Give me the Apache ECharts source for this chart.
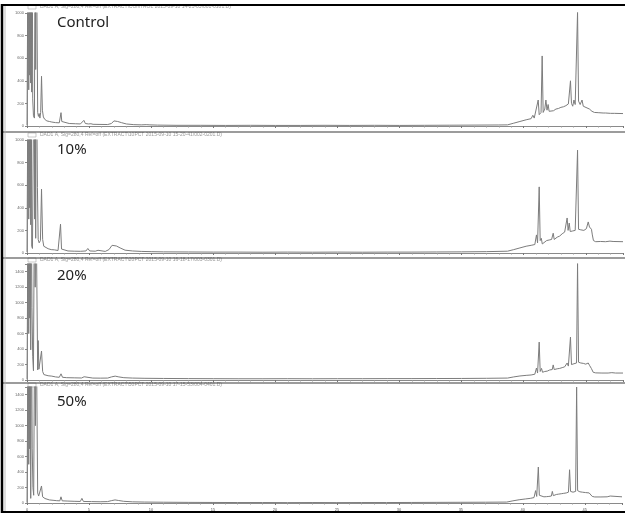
<!DOCTYPE html>
<html>
<head>
<meta charset="utf-8">
<script src="https://cdn.jsdelivr.net/npm/echarts@6/dist/echarts.min.js"></script>
<style>
  html, body { margin: 0; padding: 0; background: #fff; }
  #chart { width: 625px; height: 514px; }
</style>
</head>
<body>
<div id="chart"></div>
<script>
// Four HPLC chromatograms (absorbance vs retention time, min), one per treatment.
const panelNames = ['Control', '10%', '20%', '50%'];
const panelHeaders = [
  'DAD1 A, Sig=280,4 Ref=off (EXTRACT\\CONTROL 2015-09-10 14-23-05\\001-0101.D)',
  'DAD1 A, Sig=280,4 Ref=off (EXTRACT\\10PCT 2015-09-10 15-20-41\\002-0201.D)',
  'DAD1 A, Sig=280,4 Ref=off (EXTRACT\\20PCT 2015-09-10 16-18-17\\003-0301.D)',
  'DAD1 A, Sig=280,4 Ref=off (EXTRACT\\50PCT 2015-09-10 17-15-53\\004-0401.D)'
];
const timeRange = [0, 48];
const timeStep = 5;
const yMax = [1000, 1000, 1500, 1500];
const yStep = 200;

// [retention time (min), mAU]
const control = [
  [0,6],[0.06,8],[0.1,2000],[0.14,320],[0.18,2000],[0.22,450],[0.26,2000],[0.3,380],[0.34,2000],
  [0.38,300],[0.42,2000],[0.46,240],[0.52,90],[0.6,70],[0.66,2000],[0.7,500],[0.74,2000],[0.8,2000],
  [0.86,120],[0.92,85],[0.98,110],[1.04,70],[1.1,120],[1.17,440],[1.24,140],[1.32,80],[1.42,60],
  [1.6,45],[1.8,40],[2.0,35],[2.3,30],[2.6,28],[2.68,40],[2.74,118],[2.8,40],[2.9,25],[3.4,22],
  [3.9,20],[4.3,18],[4.45,30],[4.58,50],[4.7,22],[4.95,18],[5.15,20],[5.23,30],[5.32,15],[5.8,14],
  [6.5,13],[6.8,22],[7.0,45],[7.3,40],[7.6,30],[8.0,18],[8.6,12],[9.2,10],[9.6,12],[9.74,20],
  [9.9,10],[10.5,8],[12,6],[14,6],[16,5],[18,6],[20,5],[22,5],[24,6],[26,5],[28,6],[30,5],[32,6],
  [34,7],[36,8],[38,9],[38.7,10],[39.2,25],[39.7,40],[40.2,55],[40.6,65],[40.74,95],[40.85,70],
  [41.0,80],[41.17,230],[41.25,100],[41.4,120],[41.49,620],[41.57,120],[41.7,150],[41.79,230],
  [41.88,140],[41.97,190],[42.05,130],[42.2,125],[42.4,135],[42.6,150],[42.8,155],[43.0,165],
  [43.2,170],[43.4,180],[43.6,195],[43.77,400],[43.85,200],[43.95,175],[44.05,230],[44.15,190],
  [44.26,200],[44.34,1010],[44.42,220],[44.55,190],[44.7,230],[44.8,175],[44.95,190],[45.1,160],
  [45.3,150],[45.5,130],[45.7,120],[46.0,118],[46.4,115],[46.5,125],[46.6,115],[47.0,112],
  [47.15,125],[47.3,112],[48,110]
];
const pct10 = [
  [0,8],[0.06,10],[0.1,2000],[0.14,300],[0.18,2000],[0.22,400],[0.26,2000],[0.3,250],[0.34,2000],
  [0.38,60],[0.44,40],[0.5,50],[0.58,2000],[0.62,300],[0.66,2000],[0.7,130],[0.74,2000],[0.8,2000],
  [0.84,580],[0.9,120],[0.98,90],[1.08,110],[1.17,565],[1.26,120],[1.35,60],[1.5,50],[1.7,38],
  [1.95,30],[2.2,28],[2.5,22],[2.62,30],[2.7,255],[2.78,35],[2.9,20],[3.3,18],[3.8,16],[4.3,15],
  [4.75,18],[4.9,40],[5.05,18],[5.5,16],[5.72,24],[5.85,15],[6.3,14],[6.6,30],[6.85,68],[7.2,62],
  [7.5,45],[7.9,25],[8.5,18],[9.2,14],[10,12],[11,10],[13,9],[15,8],[17,8],[19,7],[21,8],[23,7],
  [25,8],[27,7],[29,8],[31,8],[33,9],[35,10],[37,12],[38.7,16],[39.2,30],[39.7,45],[40.2,60],
  [40.6,68],[40.9,75],[41.03,160],[41.12,90],[41.25,585],[41.33,110],[41.42,130],[41.5,80],
  [41.65,90],[41.85,110],[42.05,115],[42.25,120],[42.38,175],[42.46,120],[42.7,140],[42.9,150],
  [43.1,170],[43.3,185],[43.5,310],[43.58,200],[43.67,265],[43.75,190],[43.95,195],[44.15,200],
  [44.26,210],[44.34,910],[44.42,210],[44.6,205],[44.85,200],[45.05,215],[45.2,275],[45.3,230],
  [45.46,210],[45.53,160],[45.62,110],[45.8,100],[46.2,102],[46.6,100],[46.95,105],[47.07,118],
  [47.2,102],[48,100]
];
const pct20 = [
  [0,8],[0.06,10],[0.1,2500],[0.14,600],[0.18,2500],[0.22,800],[0.26,2500],[0.3,390],[0.34,2500],
  [0.4,940],[0.46,300],[0.52,120],[0.6,2500],[0.66,1200],[0.72,2500],[0.8,2500],[0.86,130],
  [0.9,510],[0.96,140],[1.06,120],[1.17,375],[1.26,110],[1.36,70],[1.5,60],[1.7,55],[2.0,50],
  [2.3,40],[2.6,35],[2.74,80],[2.86,35],[3.2,30],[3.8,28],[4.4,26],[4.6,42],[4.75,26],[5.3,25],
  [5.9,24],[6.5,25],[6.8,40],[7.1,50],[7.4,40],[7.8,30],[8.5,25],[9.5,22],[11,20],[13,18],[15,17],
  [17,16],[19,16],[21,17],[23,16],[25,17],[27,17],[29,18],[31,18],[33,19],[35,20],[37,22],
  [38.7,25],[39.2,40],[39.7,52],[40.2,60],[40.6,65],[40.9,75],[41.03,155],[41.12,90],[41.25,490],
  [41.33,110],[41.44,150],[41.52,100],[41.7,110],[41.9,115],[42.1,130],[42.3,135],[42.38,195],
  [42.46,135],[42.7,145],[42.9,150],[43.1,160],[43.3,170],[43.5,220],[43.6,180],[43.77,555],
  [43.85,200],[44.05,210],[44.26,220],[44.34,1510],[44.42,230],[44.6,220],[44.8,215],[45.0,205],
  [45.2,220],[45.3,190],[45.45,150],[45.6,100],[45.8,92],[46.3,90],[46.8,90],[47.1,95],[47.4,90],
  [48,90]
];
const pct50 = [
  [0,5],[0.06,8],[0.1,2500],[0.14,500],[0.18,2500],[0.22,700],[0.26,2500],[0.3,60],[0.36,2500],
  [0.42,700],[0.48,200],[0.54,100],[0.62,2500],[0.68,1000],[0.74,2500],[0.8,2500],[0.86,130],
  [0.94,90],[1.05,80],[1.17,220],[1.26,80],[1.36,60],[1.45,58],[1.6,45],[1.8,40],[2.1,35],[2.4,30],
  [2.65,28],[2.74,80],[2.84,28],[3.3,25],[3.8,22],[4.3,20],[4.43,60],[4.55,20],[5.2,18],[5.9,16],
  [6.5,18],[6.8,30],[7.1,40],[7.4,32],[7.8,22],[8.5,15],[9.5,12],[11,10],[13,8],[15,7],[17,6],
  [19,6],[21,5],[23,6],[25,5],[27,6],[29,6],[31,7],[33,8],[35,9],[37,10],[38.7,12],[39.2,28],
  [39.7,42],[40.2,52],[40.6,60],[40.9,70],[41.03,160],[41.12,85],[41.25,465],[41.33,100],
  [41.45,85],[41.7,80],[41.9,82],[42.1,85],[42.3,90],[42.38,150],[42.46,95],[42.7,110],[42.9,115],
  [43.1,120],[43.3,125],[43.5,130],[43.68,140],[43.77,430],[43.85,150],[44.05,140],[44.26,150],
  [44.34,1500],[44.42,160],[44.6,145],[44.8,140],[44.95,150],[45.05,135],[45.2,145],[45.35,130],
  [45.5,110],[45.6,85],[45.8,78],[46.3,78],[46.8,80],[47.05,90],[47.2,80],[48,80]
];
const traces = [control, pct10, pct20, pct50];

// Panel geometry (pixels)
const panelTop = [13, 140, 264, 387];
const panelHeight = [113, 113, 116, 116];
const axisOffset = [5, 4, 3, 4];
const headerY = [7, 135, 260, 385];
const nameY = [25, 152, 278, 404];
const separatorY = [132, 258, 383];

const chart = echarts.init(document.getElementById('chart'), null, { renderer: 'canvas' });

const grids = [], xAxes = [], yAxes = [], series = [], graphics = [];
traces.forEach((trace, i) => {
  grids.push({ left: 27, right: 2, top: panelTop[i], height: panelHeight[i] });
  xAxes.push({
    type: 'value', gridIndex: i, min: timeRange[0], max: timeRange[1], interval: timeStep,
    offset: axisOffset[i],
    axisLine: { lineStyle: { color: '#8a8a8a', width: 1 } },
    axisTick: { length: 2, lineStyle: { color: '#777' } },
    minorTick: { show: true, splitNumber: 5, length: 1.5, lineStyle: { color: '#999' } },
    axisLabel: {
      show: i === 3, fontSize: 4, margin: 1, color: '#555', interval: 0,
      formatter: v => (v % timeStep === 0 ? String(v) : '')
    },
    splitLine: { show: false }
  });
  yAxes.push({
    type: 'value', gridIndex: i, min: 0, max: yMax[i], interval: yStep,
    axisLine: { show: true, lineStyle: { color: '#9a9a9a', width: 1 } },
    axisTick: { show: true, length: 2, lineStyle: { color: '#888' } },
    axisLabel: {
      fontSize: 4, margin: 3, color: '#666', fontFamily: 'Liberation Sans',
      formatter: v => (v % yStep === 0 ? String(v) : '')
    },
    splitLine: { show: false }
  });
  series.push({
    type: 'line', xAxisIndex: i, yAxisIndex: i, data: trace,
    symbol: 'none', clip: true, animation: false,
    lineStyle: { color: '#7c7c7c', width: 1 }
  });
  graphics.push({
    type: 'text', left: 57, top: nameY[i] - 10,
    style: { text: panelNames[i], fontSize: 15, fontFamily: 'Noto Sans', fill: '#222' }
  });
  graphics.push({
    type: 'rect', shape: { x: 28, y: headerY[i] - 2, width: 8, height: 4 },
    style: { fill: 'none', stroke: '#aaa', lineWidth: 0.6 }
  });
  graphics.push({
    type: 'text', left: 40, top: headerY[i] - 3,
    style: { text: panelHeaders[i], fontSize: 5, fontFamily: 'Liberation Sans', fill: '#9a9a9a' }
  });
});

separatorY.forEach(y => {
  graphics.push({
    type: 'line', shape: { x1: 3, y1: y, x2: 625, y2: y },
    style: { stroke: '#3a3a3a', lineWidth: 1.2 }
  });
});

// Outer frame
graphics.push({ type: 'line', shape: { x1: 1, y1: 5, x2: 625, y2: 5 }, style: { stroke: '#000', lineWidth: 2 } });
graphics.push({ type: 'line', shape: { x1: 2, y1: 4, x2: 2, y2: 513 }, style: { stroke: '#000', lineWidth: 2.5 } });
graphics.push({ type: 'line', shape: { x1: 1, y1: 512, x2: 625, y2: 512 }, style: { stroke: '#000', lineWidth: 2 } });
graphics.push({ type: 'line', shape: { x1: 5, y1: 6, x2: 5, y2: 511 }, style: { stroke: '#b0b0b0', lineWidth: 0.8 } });

chart.setOption({
  backgroundColor: '#fff',
  animation: false,
  grid: grids,
  xAxis: xAxes,
  yAxis: yAxes,
  series: series,
  graphic: { elements: graphics }
});
</script>
</body>
</html>
